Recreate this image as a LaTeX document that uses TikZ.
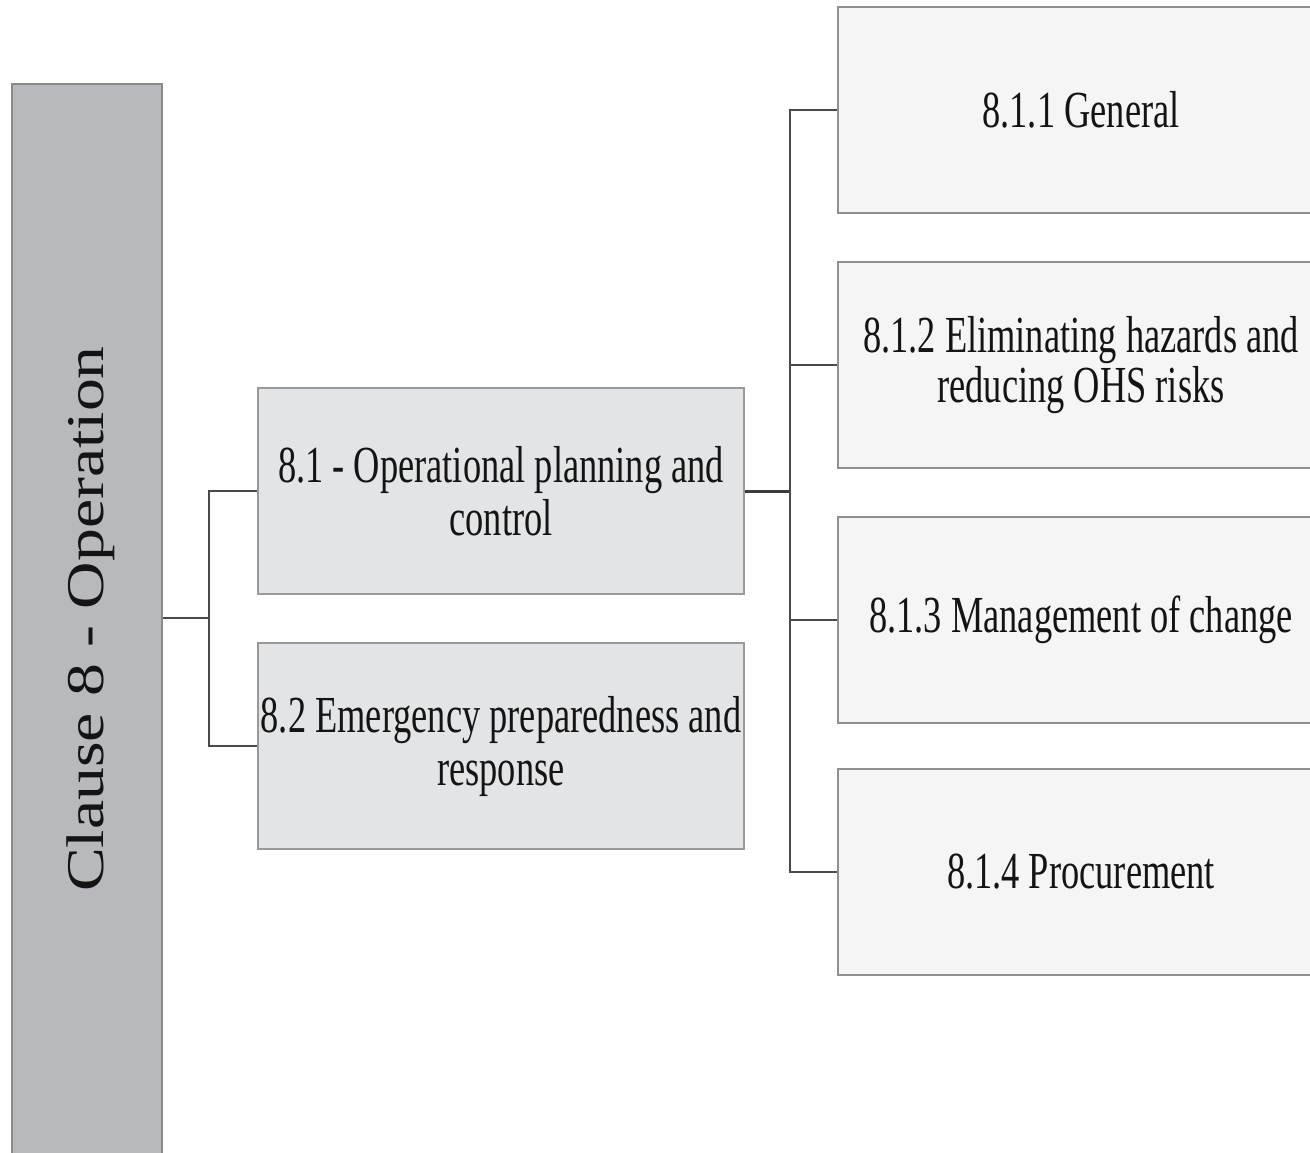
\documentclass[tikz,border=0pt]{standalone}
\usepackage{fontspec}
\setmainfont{Liberation Serif}[FakeStretch=0.70]
\newfontfamily\widefont{Liberation Serif}[FakeStretch=1.24]
\definecolor{leftfill}{HTML}{B8B9BC}
\definecolor{leftdraw}{HTML}{8A8A8A}
\definecolor{midfill}{HTML}{E3E4E6}
\definecolor{middraw}{HTML}{999999}
\definecolor{rightfill}{HTML}{F5F5F5}
\definecolor{rightdraw}{HTML}{8F8F8F}
\definecolor{conn}{HTML}{4A4A4A}
\definecolor{txt}{HTML}{141414}
\tikzset{
  leftbox/.style={rectangle, draw=leftdraw, fill=leftfill, line width=1pt, inner sep=0pt,
    minimum width=75pt, minimum height=540pt},
  midbox/.style={rectangle, draw=middraw, fill=midfill, line width=1pt, inner sep=0pt,
    minimum width=243pt, minimum height=103pt, align=center, text=txt,
    font=\fontsize{26}{26.5}\selectfont},
  rightbox/.style={rectangle, draw=rightdraw, fill=rightfill, line width=1pt, inner sep=0pt,
    minimum width=243pt, minimum height=103pt, align=center, text=txt,
    font=\fontsize{26}{25}\selectfont},
  connline/.style={draw=conn, line width=1pt},
  thickconn/.style={draw=conn!80!black, line width=1.5pt}
}
\begin{document}
\begin{tikzpicture}[x=0.5pt, y=-0.5pt]
\clip (0,0) rectangle (1310,1152);
\fill[white] (0,0) rectangle (1310,1152);
% left box
\node[leftbox] (clause) at (87,624) {};
\node[rotate=90, anchor=base, text=txt, inner sep=0pt,
  font=\widefont\fontsize{26.5}{28}\selectfont] (cltext) at (103,619) {Clause 8 - Operation};
% middle boxes
\node[midbox] (b81) at (501,491) {8.1 - Operational planning and\\control};
\node[midbox] (b82) at (501,746) {8.2 Emergency preparedness and\\response};
% right boxes
\node[rightbox] (b811) at (1081,110) {8.1.1 General};
\node[rightbox] (b812) at (1081,365) {8.1.2 Eliminating hazards and\\reducing OHS risks};
\node[rightbox] (b813) at (1081,620) {8.1.3 Management of change};
\node[rightbox] (b814) at (1081,872) {8.1.4 Procurement};
% junctions
\coordinate (jl) at (209,618);
\coordinate (jr) at (790,491);
% left connectors
\draw[connline] (clause.east |- jl) -- (jl);
\draw[connline] (b81.west) -| (jl) |- (b82.west);
% right connectors
\draw[thickconn] (b81.east) -- (jr);
\draw[connline] (b811.west) -| (jr);
\draw[connline] (b812.west) -| (jr);
\draw[connline] (b813.west) -| (jr);
\draw[connline] (b814.west) -| (jr);
\end{tikzpicture}
\end{document}
